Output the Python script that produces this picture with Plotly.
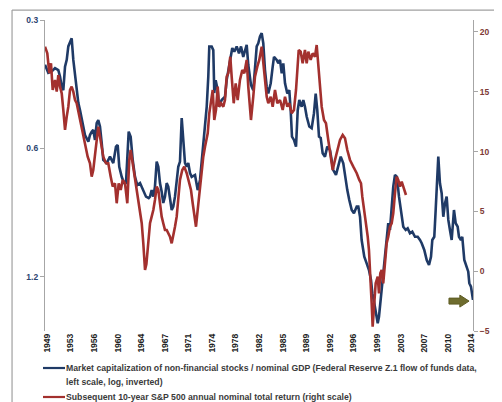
import numpy as np
import plotly.graph_objects as go

# ---------------- data ----------------
blue_years = [1949.00,1949.50,1950.02,1950.52,1951.02,1951.28,1951.54,1951.78,1952.04,1952.30,
1952.54,1952.80,1953.05,1953.30,1953.56,1953.81,1954.06,1954.32,1954.73,1955.07,
1955.58,1955.83,1956.09,1956.33,1956.59,1956.85,1957.09,1957.35,1957.61,1957.85,
1958.37,1958.87,1959.37,1959.78,1960.04,1960.28,1960.65,1961.00,1961.30,1961.50,
1961.71,1962.01,1962.32,1962.67,1963.02,1963.43,1963.93,1964.34,1964.75,1964.95,
1965.20,1965.45,1965.70,1965.96,1966.21,1966.46,1966.72,1966.96,1967.22,1967.48,
1967.72,1967.98,1968.24,1968.48,1968.74,1969.24,1969.50,1969.76,1970.00,1970.26,
1970.52,1970.76,1971.02,1971.28,1971.78,1972.19,1972.54,1972.89,1973.30,1973.56,
1973.80,1973.95,1974.31,1974.56,1974.71,1974.92,1975.23,1975.42,1975.83,1976.33,
1976.59,1976.94,1977.25,1977.44,1977.75,1978.11,1978.46,1978.77,1979.11,1979.63,
1979.87,1980.28,1980.63,1980.89,1981.15,1981.39,1981.65,1981.91,1982.15,1982.41,
1982.67,1982.91,1983.28,1983.58,1983.78,1984.19,1984.43,1984.69,1984.95,1985.19,
1985.45,1985.80,1986.10,1986.31,1986.51,1986.81,1987.12,1987.38,1987.62,1987.98,
1988.23,1988.48,1988.74,1989.14,1989.50,1989.85,1990.11,1990.35,1990.61,1990.87,
1991.17,1991.52,1991.87,1992.28,1992.78,1993.19,1993.54,1993.91,1994.30,1994.56,
1994.91,1995.21,1995.58,1995.92,1996.34,1996.58,1996.84,1997.09,1997.49,1997.85,
1998.20,1998.51,1998.71,1999.01,1999.22,1999.53,1999.72,1999.92,2000.13,2000.37,
2000.63,2000.89,2001.13,2001.39,2001.65,2001.89,2002.15,2002.45,2002.76,2003.06,
2003.41,2003.78,2004.08,2004.43,2004.78,2005.19,2005.60,2005.95,2006.21,2006.60,
2006.97,2007.32,2007.62,2007.82,2008.12,2008.33,2008.53,2008.73,2008.98,2009.24,
2009.49,2009.75,2010.00,2010.25,2010.50,2010.76,2011.11,2011.37,2011.67,2011.87,
2012.17,2012.37,2012.68,2013.04,2013.28,2013.44,2013.69,2014.00]

mktcap_gdp = [0.382,0.399,0.396,0.389,0.393,0.407,0.430,0.438,0.386,0.372,
0.346,0.337,0.331,0.372,0.407,0.445,0.469,0.488,0.523,0.558,
0.578,0.558,0.548,0.543,0.573,0.523,0.515,0.533,0.582,0.638,
0.649,0.627,0.649,0.594,0.589,0.662,0.699,0.723,0.723,0.638,
0.548,0.563,0.638,0.699,0.731,0.723,0.751,0.778,0.784,0.778,
0.751,0.778,0.737,0.644,0.662,0.723,0.758,0.805,0.778,0.723,
0.737,0.792,0.836,0.821,0.778,0.662,0.644,0.509,0.582,0.649,
0.662,0.649,0.685,0.699,0.692,0.751,0.711,0.615,0.533,0.479,
0.407,0.346,0.346,0.353,0.445,0.415,0.438,0.479,0.462,0.454,
0.415,0.386,0.366,0.349,0.356,0.346,0.359,0.346,0.366,0.343,
0.382,0.426,0.438,0.386,0.346,0.340,0.328,0.322,0.340,0.393,
0.430,0.446,0.422,0.386,0.366,0.372,0.379,0.372,0.400,0.379,
0.422,0.446,0.438,0.488,0.563,0.573,0.594,0.488,0.462,0.479,
0.462,0.479,0.505,0.533,0.538,0.496,0.446,0.488,0.563,0.567,
0.616,0.627,0.594,0.605,0.674,0.692,0.662,0.627,0.650,0.699,
0.751,0.792,0.836,0.851,0.821,0.821,0.867,0.983,1.076,1.115,
1.156,1.220,1.310,1.383,1.460,1.540,1.487,1.383,1.264,1.156,
1.037,0.966,0.898,0.931,0.806,0.737,0.692,0.699,0.778,0.836,
0.915,0.931,0.923,0.948,0.940,0.966,0.966,0.983,1.000,1.037,
1.095,1.125,1.076,0.983,0.966,0.836,0.711,0.627,0.724,0.764,
0.867,0.806,0.778,0.882,0.931,0.983,0.836,0.898,0.915,0.966,
0.983,0.966,1.095,1.135,1.166,1.241,1.264,1.358]

red_years = [1949.00,1949.35,1949.65,1949.91,1950.17,1950.52,1950.78,1951.02,1951.28,1951.54,
1951.78,1952.04,1952.30,1952.54,1952.80,1953.05,1953.30,1953.56,1953.81,1954.21,
1954.57,1954.92,1955.23,1955.48,1955.83,1956.09,1956.33,1956.59,1956.85,1957.09,
1957.35,1957.61,1957.85,1958.26,1958.61,1958.98,1959.28,1959.63,1959.89,1960.19,
1960.50,1960.80,1961.15,1961.50,1961.80,1962.01,1962.32,1962.67,1963.02,1963.43,
1963.69,1963.93,1964.19,1964.40,1964.70,1964.95,1965.20,1965.45,1965.70,1965.96,
1966.21,1966.46,1966.72,1966.96,1967.22,1967.48,1967.72,1967.98,1968.24,1968.48,
1968.74,1969.00,1969.24,1969.50,1969.85,1970.15,1970.52,1970.87,1971.17,1971.43,
1971.67,1971.93,1972.19,1972.43,1972.69,1973.04,1973.30,1973.71,1973.95,1974.21,
1974.47,1974.71,1974.97,1975.23,1975.42,1975.73,1976.08,1976.33,1976.59,1976.84,
1977.14,1977.35,1977.66,1977.96,1978.26,1978.61,1978.96,1979.27,1979.63,1979.87,
1980.28,1980.63,1980.89,1981.24,1981.54,1981.91,1982.15,1982.41,1982.67,1982.91,
1983.28,1983.58,1983.93,1984.28,1984.69,1985.10,1985.45,1985.80,1986.10,1986.46,
1986.81,1987.12,1987.31,1987.53,1987.83,1988.13,1988.48,1988.74,1988.99,1989.35,
1989.65,1990.00,1990.26,1990.50,1990.76,1991.02,1991.37,1991.67,1992.02,1992.39,
1992.69,1993.04,1993.39,1993.80,1994.21,1994.56,1994.91,1995.32,1995.82,1996.34,
1996.73,1996.99,1997.19,1997.49,1997.70,1998.01,1998.20,1998.35,1998.61,1998.76,
1999.01,1999.22,1999.53,1999.72,1999.92,2000.13,2000.37,2000.63,2000.89,2001.13,
2001.39,2001.65,2001.89,2002.15,2002.41,2002.65,2002.91,2003.17,2003.56,2003.82]

sp500_10y_return = [18.77,18.22,16.55,17.38,15.15,15.99,15.01,16.40,15.43,14.87,
13.48,11.81,12.92,13.75,15.15,15.43,15.01,14.31,14.04,12.92,
11.81,10.97,10.13,9.57,9.02,7.90,8.46,9.86,10.97,12.08,
11.25,10.13,9.57,9.02,9.02,7.90,7.07,7.35,5.68,7.35,
6.79,7.63,7.35,5.68,9.30,10.13,9.02,7.90,6.79,5.12,
4.01,2.33,0.10,0.60,2.33,4.01,4.56,5.12,5.95,7.07,
6.79,5.68,4.56,4.01,3.45,3.45,3.17,2.89,2.33,2.89,
3.72,4.56,6.23,7.63,8.46,8.74,8.19,7.35,6.79,5.68,
4.56,3.72,5.12,6.51,7.90,9.57,10.41,11.53,13.20,14.31,
15.15,12.64,13.48,15.43,13.75,14.04,13.75,14.31,16.26,16.55,
17.93,16.26,14.04,15.71,14.31,15.99,16.82,16.55,17.66,15.43,
12.64,14.59,16.26,17.10,17.66,18.77,17.38,16.26,14.59,14.04,
14.59,13.75,15.15,14.04,14.31,13.48,14.59,13.75,14.04,13.20,
13.48,15.15,16.82,18.49,18.35,17.38,18.49,17.38,18.35,17.66,
18.22,17.93,18.91,17.38,15.15,13.75,12.64,12.37,10.97,9.57,
8.46,9.30,10.13,10.97,11.39,11.11,10.13,9.30,8.74,8.19,
7.63,7.35,6.23,5.12,4.01,2.89,1.77,-0.46,-2.68,-4.64,
-2.41,-1.01,-0.46,-1.85,-0.18,0.10,-1.01,0.94,2.33,2.89,
3.72,4.01,4.84,6.51,7.90,7.63,7.07,7.48,6.79,6.37]

year_labels = ["1949","1953","1956","1960","1964","1967","1971","1974","1978","1982",
               "1985","1989","1992","1996","1999","2003","2007","2010","2014"]
left_ticks = [0.3, 0.6, 1.2]
right_ticks = [-5, 0, 5, 10, 15, 20]

blue_name_1 = "Market capitalization of non-financial stocks / nominal GDP (Federal Reserve Z.1 flow of funds data,"
blue_name_2 = "left scale, log, inverted)"
red_name = "Subsequent 10-year S&P 500 annual nominal total return (right scale)"

BLUE = "#1F3A66"
RED = "#A3302E"
GRID = "#A6A6A6"
FONT = "Liberation Sans"
LEGEND_TXT = "#3A3A3A"

fig = go.Figure()
fig.add_trace(go.Scatter(x=blue_years, y=mktcap_gdp, mode="lines",
                         name=blue_name_1 + " " + blue_name_2,
                         line=dict(color=BLUE, width=2.6), yaxis="y", showlegend=False))
fig.add_trace(go.Scatter(x=red_years, y=sp500_10y_return, mode="lines", name=red_name,
                         line=dict(color=RED, width=2.6), yaxis="y2", showlegend=False))

# block arrow pointing at the latest reading
fig.add_shape(type="path", xref="x", yref="y2",
              path="M 2010.35,-2.25 L 2012.0,-2.25 L 2012.0,-2.0 L 2013.4,-2.5 L 2012.0,-3.0 L 2012.0,-2.75 L 2010.35,-2.75 Z",
              fillcolor="#6E6C2E", line=dict(color="#5E5C24", width=1))

# outer frame lines (top and left)
fig.add_shape(type="line", xref="paper", yref="paper", x0=-0.077, x1=1.2, y0=1.032, y1=1.032,
              line=dict(color="#A0A0A0", width=1.2))
fig.add_shape(type="line", xref="paper", yref="paper", x0=-0.077, x1=-0.077, y0=1.032, y1=-0.3,
              line=dict(color="#A0A0A0", width=1.2))

# manual legend (below the plot)
leg_font = dict(family=FONT, size=8.7, color=LEGEND_TXT, weight="bold")
fig.add_shape(type="line", xref="paper", yref="paper", x0=-0.0047, x1=0.0467, y0=-0.119, y1=-0.119,
              line=dict(color=BLUE, width=2.2))
fig.add_shape(type="line", xref="paper", yref="paper", x0=-0.0047, x1=0.0467, y0=-0.2122, y1=-0.2122,
              line=dict(color=RED, width=2.2))
for txt, yy in [(blue_name_1, -0.119), (blue_name_2, -0.164), (red_name, -0.2122)]:
    fig.add_annotation(text=txt, xref="paper", yref="paper", x=0.0467, y=yy,
                       xanchor="left", yanchor="middle", showarrow=False, font=leg_font,
                       borderpad=0)

tickpos = list(np.linspace(1949.3, 2013.8, len(year_labels)))

# page body has an 8px default margin: size the figure to fit the 502x402 window
fig.update_layout(
    width=494, height=394,
    margin=dict(l=37, r=29, t=12, b=71, autoexpand=False),
    paper_bgcolor="white", plot_bgcolor="white",
    font=dict(family=FONT, size=8.5, color="#333333"),
    showlegend=False,
    xaxis=dict(range=[1949, 2014], tickvals=tickpos, ticktext=year_labels, tickangle=-90,
               showgrid=False, zeroline=False, showline=False, ticks="", automargin=False,
               tickfont=dict(family=FONT, size=8.5, color="#222222", weight="bold")),
    yaxis=dict(type="log", range=[np.log10(1.606), np.log10(0.3)],
               tickvals=left_ticks, ticktext=["0.3", "0.6", "1.2"], automargin=False,
               showgrid=False, zeroline=False, showline=True, linecolor=GRID, linewidth=1.2,
               ticks="outside", ticklen=4, tickcolor=GRID,
               tickfont=dict(family=FONT, size=8.5, color="#2B4570", weight="bold")),
    yaxis2=dict(overlaying="y", side="right", range=[-5, 21], tickvals=right_ticks,
                automargin=False,
                showgrid=False, zeroline=False, showline=True, linecolor=GRID, linewidth=1.2,
                ticks="outside", ticklen=4, tickcolor=GRID,
                tickfont=dict(family=FONT, size=8.5, color="#7E3A36", weight="bold")),
)

fig.write_html("out.html")
